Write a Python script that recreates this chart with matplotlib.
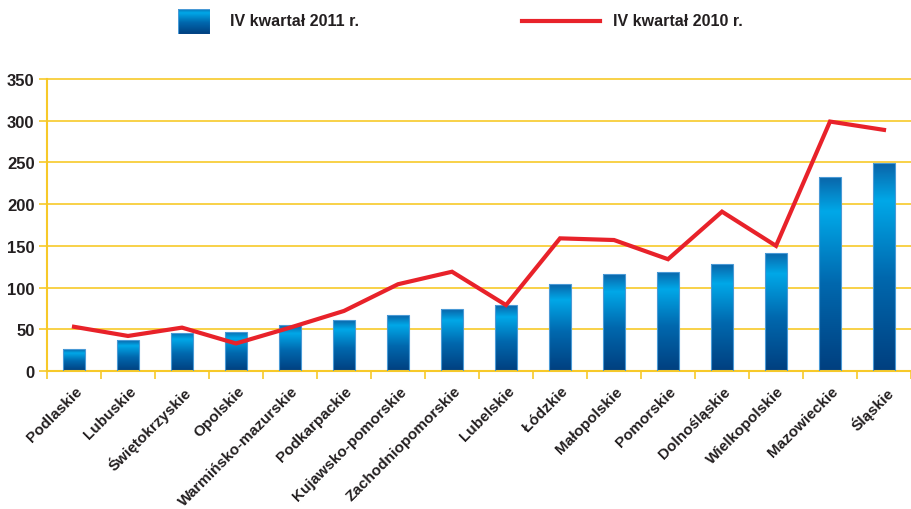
import numpy as np
import matplotlib.pyplot as plt
from matplotlib.colors import LinearSegmentedColormap
from matplotlib.patches import Rectangle
from matplotlib.lines import Line2D

plt.rcParams['font.family'] = ['Liberation Sans', 'DejaVu Sans']
plt.rcParams['font.weight'] = 'bold'

# Data
regions = ['Podlaskie', 'Lubuskie', 'Świętokrzyskie', 'Opolskie', 'Warmińsko-mazurskie',
           'Podkarpackie', 'Kujawsko-pomorskie', 'Zachodniopomorskie', 'Lubelskie', 'Łódzkie',
           'Małopolskie', 'Pomorskie', 'Dolnośląskie', 'Wielkopolskie', 'Mazowieckie', 'Śląskie']
q4_2011 = [26, 37, 46, 47, 55, 61, 67, 74, 79, 104, 116, 119, 128, 142, 233, 249]
q4_2010 = [53, 42, 52, 33, 52, 72, 104, 119, 79, 159, 157, 134, 191, 150, 299, 289]
yticks = [0, 50, 100, 150, 200, 250, 300, 350]

grid_col = '#F7C929'
text_col = '#231F20'
bar_cmap = LinearSegmentedColormap.from_list(
    'bars', [(0.0, '#003F7F'), (0.45, '#0068AE'), (0.82, '#00A8E8'), (1.0, '#0A64A8')])

fig = plt.figure(figsize=(9.11, 5.10), dpi=100)
ax = fig.add_axes([47 / 911, 138 / 510, 864 / 911, 292 / 510])

x = np.arange(len(regions))
w = 0.39
grad = np.linspace(0, 1, 256).reshape(-1, 1)
for xi, v in zip(x, q4_2011):
    rect = Rectangle((xi - w / 2, 0), w, v, facecolor='none', edgecolor='#4A9AD6',
                     linewidth=0.8, zorder=3)
    ax.add_patch(rect)
    im = ax.imshow(grad, cmap=bar_cmap, aspect='auto', origin='lower',
                   extent=[xi - w / 2, xi + w / 2, 0, v], zorder=2)
    im.set_clip_path(rect)

ax.plot(x, q4_2010, color='#E8222A', linewidth=3, zorder=4, solid_joinstyle='miter')

ax.set_xlim(-0.5, len(regions) - 0.5)
ax.set_ylim(0, 350)
ax.set_yticks(yticks)
ax.set_yticklabels([str(t) for t in yticks], fontsize=12, fontweight='bold', color=text_col)
for t in yticks[1:]:
    ax.axhline(t, color=grid_col, linewidth=1.2, zorder=1, clip_on=False)

ax.set_xticks(np.arange(len(regions) + 1) - 0.5)
ax.set_xticklabels([])
ax.tick_params(axis='x', length=6, width=1.2, color=grid_col, direction='out')
ax.tick_params(axis='y', length=6, width=1.2, color=grid_col, direction='out', pad=3)

for s in ['top', 'right']:
    ax.spines[s].set_visible(False)
for s in ['left', 'bottom']:
    ax.spines[s].set_color(grid_col)
    ax.spines[s].set_linewidth(1.5)

for xi, name in zip(x, regions):
    ax.text(xi + 0.02, -15, name, rotation=45, ha='right', va='top', rotation_mode='anchor',
            fontsize=11, fontweight='bold', color=text_col, transform=ax.transData)

# legend at the top
lx = fig.add_axes([178 / 911, 475 / 510, 32 / 911, 25 / 510])
lx.imshow(grad, cmap=bar_cmap, aspect='auto', origin='lower', extent=[0, 1, 0, 1])
lx.add_patch(Rectangle((0, 0), 1, 1, facecolor='none', edgecolor='#4A9AD6', linewidth=0.8))
lx.set_xlim(0, 1)
lx.set_ylim(0, 1)
lx.axis('off')
fig.text(230 / 911, 1 - 22 / 510, 'IV kwartał 2011 r.', fontsize=11.5, fontweight='bold',
         color=text_col, va='center')
fig.add_artist(Line2D([522 / 911, 600 / 911], [1 - 22 / 510, 1 - 22 / 510],
                      color='#E8222A', linewidth=3))
fig.text(613 / 911, 1 - 22 / 510, 'IV kwartał 2010 r.', fontsize=11.5, fontweight='bold',
         color=text_col, va='center')

fig.savefig('out.png', dpi=100)
